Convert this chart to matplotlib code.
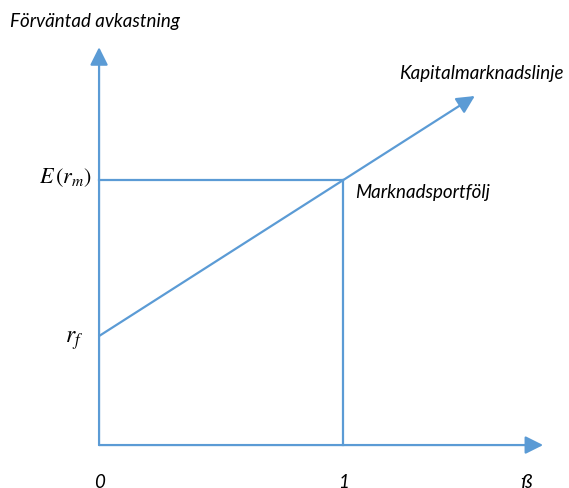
import matplotlib
matplotlib.use("Agg")
import matplotlib.pyplot as plt

# Data
beta_points = [0, 1]
rf = 1.0
erm = 2.43
beta_axis_end = 1.82
ret_axis_end = 3.65
cml_end_beta = 1.54
x_tick_labels = ["0", "1"]

blue = "#5B9BD5"
plt.rcParams['mathtext.fontset'] = 'stix'

fig = plt.figure(figsize=(5.69, 4.89), dpi=100)
ax = fig.add_axes([0, 0, 1, 1])
ax.set_xlim(-0.406, 1.926)
ax.set_ylim(-0.394, 4.092)
ax.axis('off')

arrow_kw = dict(arrowstyle='-|>,head_length=0.9,head_width=0.45', color=blue, lw=1.6,
                shrinkA=0, shrinkB=0, mutation_scale=12)
# axes
ax.annotate('', xy=(0, ret_axis_end), xytext=(0, 0), arrowprops=arrow_kw)
ax.annotate('', xy=(beta_axis_end, 0), xytext=(0, 0), arrowprops=arrow_kw)
# CML
slope = (erm - rf) / (beta_points[1] - beta_points[0])
ax.annotate('', xy=(cml_end_beta, rf + slope * cml_end_beta), xytext=(0, rf), arrowprops=arrow_kw)
# guide lines
ax.plot([0, 1], [erm, erm], color=blue, lw=1.6)
ax.plot([1, 1], [0, erm], color=blue, lw=1.6)

fam = 'Lato'
fs = 13.5
ax.text(10 / 569, 1 - 22 / 489, "Förväntad avkastning", transform=fig.transFigure, fontstyle='italic',
        family=fam, fontsize=fs, ha='left', va='center')
ax.text(399 / 569, 1 - 73 / 489, "Kapitalmarknadslinje", transform=fig.transFigure, family=fam,
        fontstyle='italic', fontsize=fs, ha='left', va='center')
ax.text(1.05, erm - 0.1, "Marknadsportfölj", family=fam, fontstyle='italic', fontsize=fs,
        ha='left', va='center')
ax.text(-0.03, erm + 0.03, r"$E\,(r_m)$", fontsize=16, ha='right', va='center')
ax.text(-0.065, rf - 0.03, r"$r_f$", fontsize=17, ha='right', va='center')
for b, lab in zip(beta_points, x_tick_labels):
    ax.text(b, -0.33, lab, family=fam, fontstyle='italic', fontsize=fs, ha='center', va='center')
ax.text(beta_axis_end - 0.07, -0.33, "ß", family=fam, fontstyle='italic', fontsize=fs + 1,
        ha='center', va='center')

fig.savefig("out.png", dpi=100)
